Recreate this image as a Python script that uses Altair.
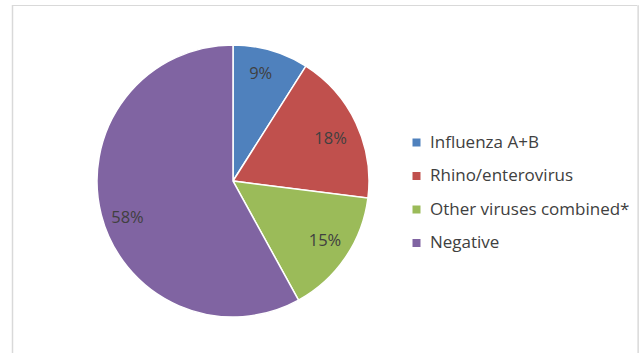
import altair as alt
import pandas as pd

categories = ["Influenza A+B", "Rhino/enterovirus", "Other viruses combined*", "Negative"]
values = [9, 18, 15, 58]
labels = ["9%", "18%", "15%", "58%"]
colors = ["#4F81BD", "#C0504D", "#9BBB59", "#8064A2"]

df = pd.DataFrame({"cat": categories, "val": values, "lab": labels, "order": list(range(len(categories)))})

cx, cy = 221, 176
base = alt.Chart(df).encode(
    theta=alt.Theta("val:Q", stack=True),
    order=alt.Order("order:Q"),
)

pie = base.mark_arc(stroke="white", strokeWidth=1.5, x=cx, y=cy).encode(
    color=alt.Color(
        "cat:N",
        sort=categories,
        scale=alt.Scale(domain=categories, range=colors),
        legend=alt.Legend(
            title=None,
            orient="none",
            legendX=396,
            legendY=129,
            symbolType="square",
            symbolSize=64,
            symbolStrokeWidth=0,
            labelFont="Open Sans",
            labelFontSize=17,
            labelColor="#404040",
            labelLimit=400,
            rowPadding=15.5,
            labelOffset=5,
        ),
    ),
    radius=alt.value(136),
)

# Excel "best fit" placement nudges some labels off the common radius
nudges = {"Influenza A+B": (-3, -1), "Rhino/enterovirus": (-2, 5),
          "Other viruses combined*": (1, -2), "Negative": (1, 10)}

text_layers = []
for cat in categories:
    ddx, ddy = nudges[cat]
    text_layers.append(
        base.mark_text(font="Open Sans", fontSize=16.5, color="#404040", x=cx, y=cy, dx=ddx, dy=ddy)
        .encode(
            text=alt.condition(alt.datum.cat == cat, "lab:N", alt.value("")),
            radius=alt.value(110),
        )
    )

bdf = pd.DataFrame({"k": [0]})
border_top = alt.Chart(bdf).mark_rule(color="#d9d9d9", strokeWidth=1).encode(
    x=alt.value(0), x2=alt.value(626), y=alt.value(0.5)
)
border_left = alt.Chart(bdf).mark_rule(color="#d9d9d9", strokeWidth=1.5).encode(
    x=alt.value(0.5), y=alt.value(0), y2=alt.value(352)
)
border_right = alt.Chart(bdf).mark_rule(color="#e8e8e8", strokeWidth=1).encode(
    x=alt.value(625.5), y=alt.value(0), y2=alt.value(352)
)

chart = (
    alt.layer(border_top, border_left, border_right, pie, *text_layers)
    .properties(
        width=626,
        height=352,
        autosize=alt.AutoSizeParams(type="none"),
        padding={"left": 12, "top": 5, "right": 1, "bottom": 0},
    )
    .configure_view(stroke=None)
    .configure(background="white")
)

chart.save("out.html", embed_options={"renderer": "svg", "actions": False})
